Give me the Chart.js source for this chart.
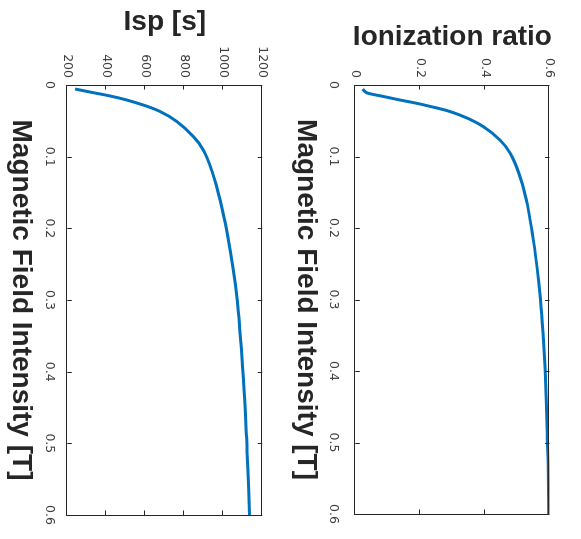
<!DOCTYPE html>
<html>
<head>
<meta charset="utf-8">
<script src="https://cdn.jsdelivr.net/npm/chart.js@4"></script>
<style>
  html, body { margin: 0; padding: 0; background: #fff; overflow: hidden; }
  /* figure is laid out upright, then turned a quarter turn clockwise */
  #figure {
    position: absolute;
    left: 0;
    top: 0;
    width: 539px;
    height: 581px;
    transform-origin: 0 0;
    transform: translate(581px, 0) rotate(90deg);
  }
  #figure canvas { display: block; }
</style>
</head>
<body>
<div id="figure">
  <canvas id="ion-chart" width="539" height="290"></canvas>
  <canvas id="isp-chart" width="539" height="291"></canvas>
</div>
<script>
// magnetic field [T] vs ionization ratio
const fieldIon = [0.0056, 0.0093, 0.0116, 0.016, 0.021, 0.0256, 0.031, 0.037, 0.046, 0.058,
  0.077, 0.095, 0.123, 0.16, 0.207, 0.253, 0.3, 0.346, 0.393, 0.44, 0.486, 0.532, 0.6];
const ionValues = [0.023, 0.030, 0.040, 0.086, 0.138, 0.190, 0.241, 0.292, 0.344, 0.395,
  0.447, 0.478, 0.505, 0.528, 0.547, 0.561, 0.572, 0.580, 0.586, 0.590, 0.593, 0.596, 0.598];

// magnetic field [T] vs specific impulse [s]
const fieldIsp = [0.0056, 0.0107, 0.0153, 0.021, 0.028, 0.037, 0.051, 0.072, 0.091, 0.123,
  0.16, 0.207, 0.253, 0.3, 0.346, 0.393, 0.44, 0.486, 0.532, 0.6];
const ispValues = [240, 333, 419, 505, 590, 676, 762, 847, 898, 945,
  983, 1020, 1049, 1071, 1086, 1099, 1110, 1118, 1126, 1134];

const fieldTicks = [0, 0.1, 0.2, 0.3, 0.4, 0.5, 0.6];
const ionTicks = [0, 0.2, 0.4, 0.6];
const ispTicks = [200, 400, 600, 800, 1000, 1200];

const lineColor = "#0072BD";
const axisColor = "#262626";
const tickFont = { family: "'DejaVu Sans', sans-serif", size: 12.5 };
const titleFont = { family: "'Liberation Sans', Arial, sans-serif", size: 28, weight: "bold", lineHeight: 1 };

// box around the plot area with inward tick marks on all four sides
const boxTicks = {
  id: "boxTicks",
  afterDatasetsDraw(chart) {
    const { ctx, chartArea: a, scales } = chart;
    const len = 4.5;
    ctx.save();
    ctx.strokeStyle = axisColor;
    ctx.lineWidth = 1;
    ctx.beginPath();
    scales.x.ticks.forEach((t) => {
      const px = Math.round(scales.x.getPixelForValue(t.value)) + 0.5;
      ctx.moveTo(px, a.bottom);
      ctx.lineTo(px, a.bottom - len);
      ctx.moveTo(px, a.top);
      ctx.lineTo(px, a.top + len);
    });
    scales.y.ticks.forEach((t) => {
      const py = Math.round(scales.y.getPixelForValue(t.value)) + 0.5;
      ctx.moveTo(a.left, py);
      ctx.lineTo(a.left + len, py);
      ctx.moveTo(a.right, py);
      ctx.lineTo(a.right - len, py);
    });
    ctx.stroke();
    ctx.strokeRect(Math.round(a.left) + 0.5, Math.round(a.top) + 0.5,
      Math.round(a.right - a.left), Math.round(a.bottom - a.top));
    ctx.restore();
  },
};

const fmt = (v) => String(Number(v.toFixed(2)));

function makeChart(id, xs, ys, yTicks, yTitle, opts) {
  return new Chart(document.getElementById(id), {
    type: "scatter",
    data: {
      datasets: [
        {
          data: xs.map((b, i) => ({ x: b, y: ys[i] })),
          showLine: true,
          borderColor: lineColor,
          borderWidth: 3,
          pointRadius: 0,
          tension: 0.4,
        },
      ],
    },
    options: {
      responsive: false,
      animation: false,
      layout: { padding: { top: opts.top, right: 24, bottom: 0, left: 0 } },
      plugins: { legend: { display: false }, tooltip: { enabled: false } },
      scales: {
        x: {
          type: "linear",
          min: 0,
          max: 0.6,
          afterBuildTicks: (s) => { s.ticks = fieldTicks.map((v) => ({ value: v })); },
          afterFit: (s) => { s.height = opts.xHeight; },
          grid: { display: false, drawTicks: false },
          border: { display: false },
          ticks: { font: tickFont, color: "#404040", padding: opts.xPad, maxRotation: 0, callback: fmt },
          title: {
            display: true,
            text: "Magnetic Field Intensity [T]",
            font: titleFont,
            color: axisColor,
            padding: { top: 0, bottom: opts.xTitlePad },
          },
        },
        y: {
          type: "linear",
          min: yTicks[0],
          max: yTicks[yTicks.length - 1],
          afterBuildTicks: (s) => { s.ticks = yTicks.map((v) => ({ value: v })); },
          afterFit: (s) => { s.width = 85; },
          grid: { display: false, drawTicks: false },
          border: { display: false },
          ticks: { font: tickFont, color: "#404040", padding: 7, callback: fmt },
          title: {
            display: true,
            text: yTitle,
            font: titleFont,
            color: axisColor,
            padding: { top: opts.yTitlePad, bottom: 0 },
          },
        },
      },
    },
    plugins: [boxTicks],
  });
}

const ionChart = makeChart("ion-chart", fieldIon, ionValues, ionTicks, "Ionization ratio", {
  top: 31.5, xHeight: 64.3, xPad: 15, xTitlePad: 1, yTitlePad: 23,
});

const ispChart = makeChart("isp-chart", fieldIsp, ispValues, ispTicks, "Isp [s]", {
  top: 28.7, xHeight: 67.3, xPad: 11, xTitlePad: 7, yTitlePad: 8,
});
</script>
</body>
</html>
